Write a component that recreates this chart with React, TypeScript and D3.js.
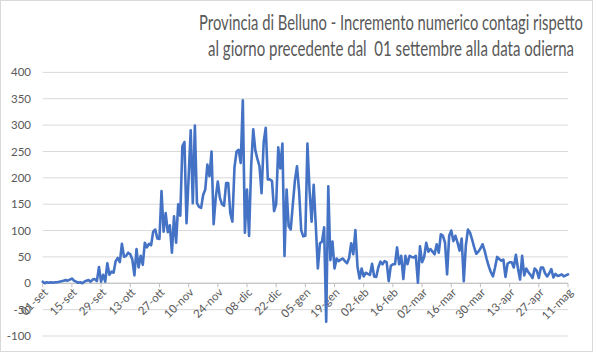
import React, {useEffect, useRef} from 'react';
import * as d3 from 'd3';

// incremento giornaliero dei contagi, un valore per giorno a partire dal 01-set-2020
const settembre = [3, 0, 2, 1, 2, 1, 2, 2, 3, 4, 5, 6, 5, 7, 9, 5, 3, 1, 2, 0, 3, 5, 6, 3, 7, 8, 4, 31, 3, 16];
const ottobre = [3, 38, 16, 22, 20, 42, 48, 40, 75, 50, 52, 58, 55, 45, 15, 65, 30, 52, 35, 77, 68, 75, 72, 98, 102, 85, 84, 175, 98, 133, 97];
const novembre = [110, 58, 127, 77, 150, 128, 260, 268, 114, 200, 290, 152, 299, 152, 145, 143, 168, 178, 225, 203, 250, 112, 162, 193, 162, 150, 147, 190, 190, 133];
const dicembre = [117, 220, 250, 253, 228, 347, 96, 178, 90, 222, 292, 252, 236, 222, 171, 267, 295, 197, 197, 194, 137, 150, 258, 218, 265, 52, 178, 108, 102, 150, 195];
const gennaio = [222, 175, 101, 89, 90, 265, 177, 117, 187, 110, 28, 76, 79, 106, -73, 184, 44, 79, 28, 47, 42, 45, 47, 42, 38, 48, 76, 55, 101, 32, 9];
const febbraio = [28, 13, 20, 18, 16, 37, 13, 12, 30, 41, 36, 42, 40, 4, 33, 36, 36, 68, 36, 52, 8, 52, 36, 52, 50, 49, 52, 1];
const marzo = [70, 40, 50, 77, 60, 65, 60, 55, 74, 58, 93, 90, 77, 17, 90, 100, 80, 90, 77, 62, 85, 4, 72, 102, 96, 83, 68, 56, 60, 66, 74];
const aprile = [62, 46, 32, 21, 13, 30, 50, 46, 43, 45, 12, 37, 40, 40, 30, 54, 28, 7, 52, 15, 28, 21, 16, 10, 28, 24, 10, 30, 30, 19];
const maggio = [13, 19, 27, 11, 18, 14, 15, 17, 13, 15, 17];

const xTickLabels = ['01-set', '15-set', '29-set', '13-ott', '27-ott', '10-nov', '24-nov', '08-dic', '22-dic',
    '05-gen', '19-gen', '02-feb', '16-feb', '02-mar', '16-mar', '30-mar', '13-apr', '27-apr', '11-mag'];
const yTicks = [-100, -50, 0, 50, 100, 150, 200, 250, 300, 350, 400];

const titleLines = [
    'Provincia di Belluno - Incremento numerico contagi rispetto',
    'al giorno precedente dal  01 settembre alla data odierna'
];
// larghezza occupata da ciascuna riga del titolo nel riferimento
const titleWidths = [384, 366];

const mesi = {gen: 0, feb: 1, mar: 2, apr: 3, mag: 4, set: 8, ott: 9, nov: 10, dic: 11};
const parseLabel = (s: string) => {
    const [dd, mm] = s.split('-');
    const m = mesi[mm];
    return new Date(m >= 8 ? 2020 : 2021, m, +dd);
};

const width = 593;
const height = 352;
const startDate = new Date(2020, 8, 1);
const valori = [...settembre, ...ottobre, ...novembre, ...dicembre, ...gennaio, ...febbraio, ...marzo, ...aprile, ...maggio];
const data = valori.map((v, i) => ({date: d3.timeDay.offset(startDate, i), value: v}));

const textColor = '#595959';
const font = 'Lato, "Open Sans", sans-serif';

export default function App() {
    const titleRef = useRef<SVGGElement | null>(null);

    useEffect(() => {
        // stringe il titolo alla larghezza del riferimento (font più largo di Calibri)
        d3.select(titleRef.current).selectAll('text').each(function (_, i) {
            const el = this as SVGTextElement;
            const w = el.getComputedTextLength();
            const k = Math.min(1, titleWidths[i] / w);
            d3.select(el).attr('transform', `translate(391,${30 + i * 26}) scale(${k},1)`);
        });
    }, []);

    const x = d3.scaleTime()
        .domain([startDate, parseLabel('11-mag')])
        .range([42.7, 568]);
    const y = d3.scaleLinear()
        .domain([-100, 400])
        .range([336, 72.4]);

    const line = d3.line<{date: Date, value: number}>()
        .x(d => x(d.date))
        .y(d => y(d.value));

    const y0 = y(0);

    return (
        <svg width={width} height={height} style={{position: 'absolute', left: 0, top: 0, background: '#fff'}}>
            <rect x={0.5} y={0.5} width={width - 1} height={height - 1} fill="#fff" stroke="#d9d9d9"/>
            <g ref={titleRef}>
                {titleLines.map((t, i) => (
                    <text key={i} transform={`translate(391,${30 + i * 26}) scale(0.72,1)`} textAnchor="middle"
                          fill={textColor} fontFamily={font} fontSize={20.5} style={{whiteSpace: 'pre'}}>{t}</text>
                ))}
            </g>
            {yTicks.map(t => (
                <g key={t}>
                    <line x1={42.7} x2={568} y1={y(t)} y2={y(t)} stroke="#d9d9d9" strokeWidth={1}/>
                    <text x={31} y={y(t)} dy="0.35em" textAnchor="end" fill={textColor}
                          fontFamily={font} fontSize={11.5}>{t}</text>
                </g>
            ))}
            <line x1={42.7} x2={568} y1={y0} y2={y0} stroke="#bfbfbf" strokeWidth={1}/>
            {xTickLabels.map(l => {
                const px = x(parseLabel(l));
                return (
                    <g key={l}>
                        <line x1={px} x2={px} y1={y0} y2={y0 + 4} stroke="#bfbfbf"/>
                        <text transform={`translate(${px + 3},${y0 + 7}) rotate(-45)`} dy="0.35em"
                              textAnchor="end" fill={textColor} fontFamily={font} fontSize={11.5}>{l}</text>
                    </g>
                );
            })}
            <path d={line(data) || ''} fill="none" stroke="#4472C4" strokeWidth={2.6}
                  strokeLinejoin="round" strokeLinecap="round"/>
        </svg>
    );
}
